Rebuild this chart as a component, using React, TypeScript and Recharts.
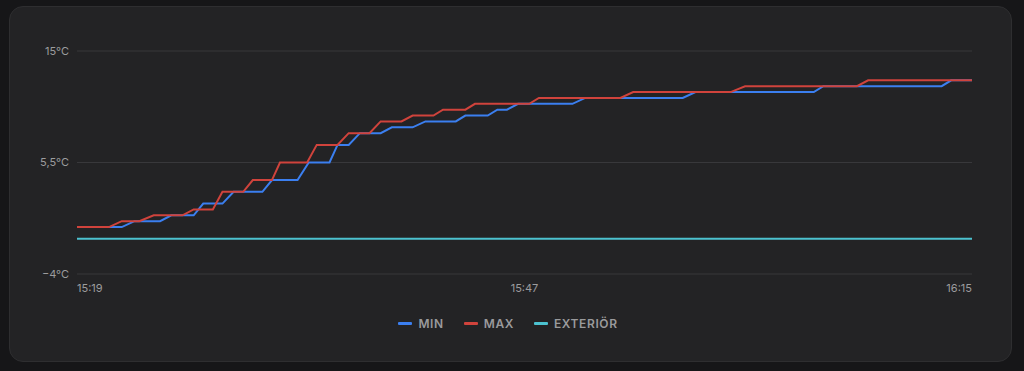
import React from "react";
import { LineChart, Line, XAxis, YAxis, CartesianGrid, Legend } from "recharts";

// minutes since 15:19
const minTimes = [0, 2.8, 3.6, 5.2, 5.9, 7.3, 7.9, 9.1, 9.8, 11.6, 12.2, 13.8, 14.5, 15.8, 16.3, 17.0, 17.7, 19.0, 19.7, 21.0, 21.8, 23.7, 24.3, 25.7, 26.3, 26.9, 27.6, 31.0, 31.8, 37.9, 38.7, 46.1, 46.7, 54.1, 54.7, 56];
const minValues = [0, 0, 0.5, 0.5, 1, 1, 2, 2, 3, 3, 4, 4, 5.5, 5.5, 7, 7, 8, 8, 8.5, 8.5, 9, 9, 9.5, 9.5, 10, 10, 10.5, 10.5, 11, 11, 11.5, 11.5, 12, 12, 12.5, 12.5];

const maxTimes = [0, 2.0, 2.8, 3.9, 4.8, 6.6, 7.3, 8.5, 9.1, 10.4, 11.0, 12.2, 12.7, 14.4, 15.0, 16.3, 17.0, 18.3, 19.0, 20.3, 21.0, 22.3, 22.9, 24.3, 24.9, 28.3, 28.9, 34.0, 34.8, 40.9, 41.8, 48.8, 49.5, 56];
const maxValues = [0, 0, 0.5, 0.5, 1, 1, 1.5, 1.5, 3, 3, 4, 4, 5.5, 5.5, 7, 7, 8, 8, 9, 9, 9.5, 9.5, 10, 10, 10.5, 10.5, 11, 11, 11.5, 11.5, 12, 12, 12.5, 12.5];

const exteriorTimes = [0, 56];
const exteriorValues = [-1, -1];

const xTicks = [0, 28, 56];
const yTicks = [-4, 5.5, 15];
const startHour = 15;
const startMinute = 19;

const seriesNames = ["MIN", "MAX", "EXTERIÖR"];
const seriesColors = ["#3b7ff0", "#d0433c", "#4cc2d0"];

const toPoints = (ts: number[], vs: number[]) => ts.map((t, i) => ({ t, v: vs[i] }));
const minData = toPoints(minTimes, minValues);
const maxData = toPoints(maxTimes, maxValues);
const extData = toPoints(exteriorTimes, exteriorValues);

const fmtTime = (m: number) => {
  const total = startHour * 60 + startMinute + Math.round(m);
  const h = Math.floor(total / 60);
  const mm = total % 60;
  return `${h}:${mm.toString().padStart(2, "0")}`;
};

const fmtTemp = (v: number) => {
  const s = String(Math.abs(v)).replace(".", ",");
  return `${v < 0 ? "\u2212" : ""}${s}°C`;
};

const FONT = "Inter, 'Noto Sans', sans-serif";
const TICK_COLOR = "#9c9c9e";

const XTick = (props: any) => {
  const { x, y, payload } = props;
  const v = payload.value;
  const anchor = v === xTicks[0] ? "start" : v === xTicks[xTicks.length - 1] ? "end" : "middle";
  return (
    <text x={x} y={y} dy="0.71em" textAnchor={anchor} fill={TICK_COLOR} fontSize={11} fontFamily={FONT}>
      {fmtTime(v)}
    </text>
  );
};

const LegendContent = () => (
  <div
    style={{
      display: "flex",
      justifyContent: "center",
      alignItems: "center",
      height: 20,
      width: "100%",
      fontFamily: FONT,
    }}
  >
    {seriesNames.map((n, i) => (
      <div key={n} style={{ display: "flex", alignItems: "center", marginLeft: i === 0 ? 0 : 20 }}>
        <span style={{ display: "inline-block", width: 14, height: 3, borderRadius: 1, background: seriesColors[i], marginRight: 6 }} />
        <span style={{ color: "#9a9a9c", fontSize: 12, fontWeight: 600, letterSpacing: 0.6 }}>{n}</span>
      </div>
    ))}
  </div>
);

export default function App() {
  return (
    <div style={{ position: "fixed", inset: 0, background: "#161618" }}>
      <div
        style={{
          position: "absolute",
          left: 9,
          top: 6,
          width: 1001,
          height: 354,
          background: "#232325",
          border: "1px solid #2e2e30",
          borderRadius: 14,
        }}
      />
      <div style={{ position: "absolute", left: 0, top: 0 }}>
        <LineChart width={1024} height={371} margin={{ top: 51, right: 52, left: 17, bottom: 38 }}>
          <CartesianGrid vertical={false} stroke="#38383b" strokeWidth={1} />
          <XAxis
            type="number"
            dataKey="t"
            domain={[0, 56]}
            ticks={xTicks}
            axisLine={false}
            tickLine={false}
            tickSize={0}
            tickMargin={10}
            height={39}
            tick={<XTick />}
            interval={0}
          />
          <YAxis
            type="number"
            domain={[-4, 15]}
            ticks={yTicks}
            axisLine={false}
            tickLine={false}
            tickSize={0}
            tickMargin={8}
            width={60}
            tickFormatter={fmtTemp}
            tick={{ fill: TICK_COLOR, fontSize: 11, fontFamily: FONT }}
            interval={0}
          />
          <Legend
            verticalAlign="bottom"
            content={<LegendContent />}
            wrapperStyle={{ left: 0, width: 1016, bottom: 38, height: 20 }}
          />
          <Line data={extData} dataKey="v" name={seriesNames[2]} stroke={seriesColors[2]} strokeWidth={2} dot={false} isAnimationActive={false} type="linear" />
          <Line data={minData} dataKey="v" name={seriesNames[0]} stroke={seriesColors[0]} strokeWidth={2} dot={false} isAnimationActive={false} type="linear" />
          <Line data={maxData} dataKey="v" name={seriesNames[1]} stroke={seriesColors[1]} strokeWidth={2} dot={false} isAnimationActive={false} type="linear" />
        </LineChart>
      </div>
    </div>
  );
}
